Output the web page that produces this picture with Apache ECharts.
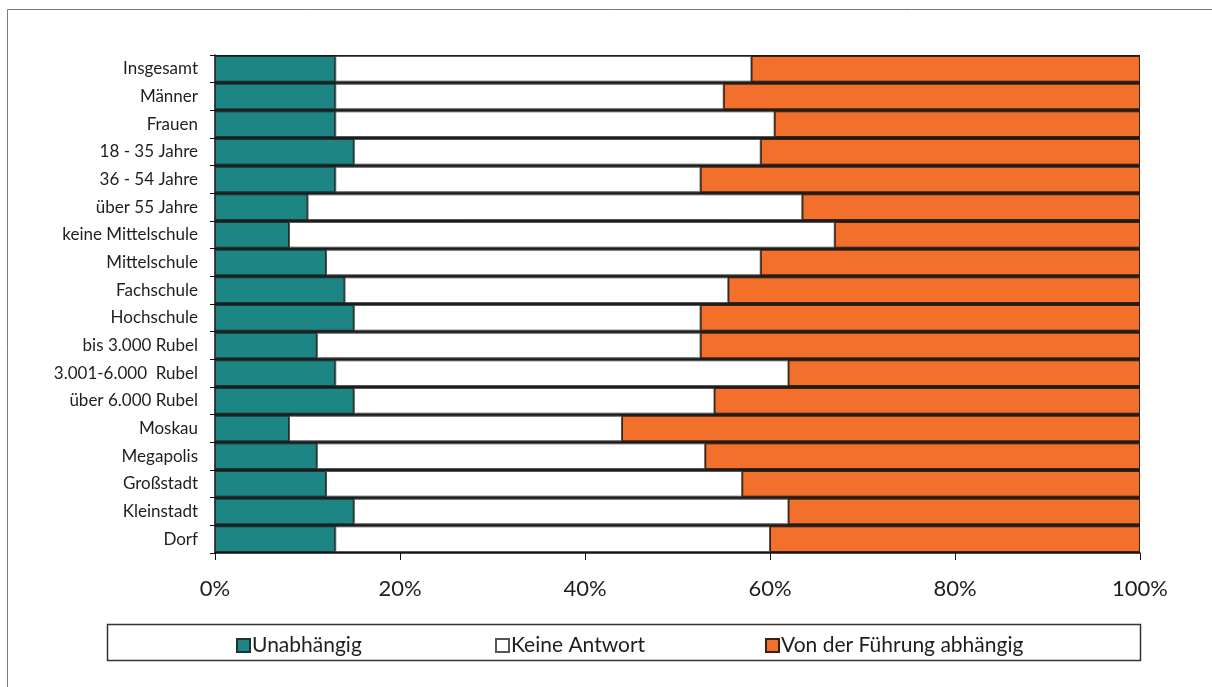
<!DOCTYPE html>
<html>
<head>
<meta charset="utf-8">
<script src="https://cdn.jsdelivr.net/npm/echarts@6/dist/echarts.min.js"></script>
<style>
  html, body { margin: 0; padding: 0; background: #fff; }
  #chart { width: 1212px; height: 687px; }
</style>
</head>
<body>
<div id="chart"></div>
<script>
// Gruppen (von oben nach unten)
const categories = [
  'Insgesamt', 'Männer', 'Frauen', '18 - 35 Jahre', '36 - 54 Jahre', 'über 55 Jahre',
  'keine Mittelschule', 'Mittelschule', 'Fachschule', 'Hochschule',
  'bis 3.000 Rubel', '3.001-6.000  Rubel', 'über 6.000 Rubel',
  'Moskau', 'Megapolis', 'Großstadt', 'Kleinstadt', 'Dorf'
];

// Anteile in Prozent
const unabhaengig = [13, 13, 13, 15, 13, 10, 8, 12, 14, 15, 11, 13, 15, 8, 11, 12, 15, 13];
const keineAntwort = [45, 42, 47.5, 44, 39.5, 53.5, 59, 47, 41.5, 37.5, 41.5, 49, 39, 36, 42, 45, 47, 47];
const abhaengig = [42, 45, 39.5, 41, 47.5, 36.5, 33, 41, 44.5, 47.5, 47.5, 38, 46, 56, 47, 43, 38, 40];

const seriesNames = ['Unabhängig', 'Keine Antwort', 'Von der Führung abhängig'];
const xTicks = [0, 20, 40, 60, 80, 100];

const FONT = 'Lato, "Noto Sans", sans-serif';
const TEXT = '#1e1e1e';

const chart = echarts.init(document.getElementById('chart'), null, { renderer: 'canvas' });

function barSeries(name, data, color, border) {
  return {
    name: name,
    type: 'bar',
    stack: 'total',
    data: data,
    barCategoryGap: '7%',
    itemStyle: { color: color, borderColor: border, borderWidth: 1 },
    emphasis: { disabled: true }
  };
}

// one legend entry per series, each placed on its own
const legendLefts = [231, 490, 760];
const legends = seriesNames.map((name, i) => ({
  data: [name],
  left: legendLefts[i], top: 630,
  icon: 'rect', itemWidth: 13, itemHeight: 13,
  textStyle: { fontFamily: FONT, fontSize: 21, color: TEXT, padding: [0, 0, 0, -3] },
  selectedMode: false
}));

chart.setOption({
  animation: false,
  backgroundColor: '#fff',
  graphic: [
    {
      type: 'rect',
      shape: { x: 7.5, y: 9.5, width: 1400, height: 900 },
      style: { fill: 'none', stroke: '#7a7a7a', lineWidth: 1 },
      silent: true, z: -10
    },
    {
      type: 'rect',
      shape: { x: 107.5, y: 624.5, width: 1033, height: 36 },
      style: { fill: '#fff', stroke: '#333', lineWidth: 1.5 },
      silent: true, z: -5
    }
  ],
  grid: {
    left: 215, right: 72, top: 55, bottom: 134,
    show: true, backgroundColor: '#1c1c1c', borderWidth: 0
  },
  legend: legends,
  xAxis: {
    type: 'value',
    min: 0, max: 100, interval: 20,
    axisLine: { show: true, lineStyle: { color: '#111', width: 1.5 } },
    axisTick: { show: true, length: 7, lineStyle: { color: '#111' } },
    splitLine: { show: false },
    axisLabel: {
      margin: 25,
      fontFamily: FONT, fontSize: 22, color: TEXT,
      formatter: v => xTicks.includes(v) ? v + '%' : ''
    }
  },
  yAxis: {
    type: 'category',
    data: categories,
    inverse: true,
    axisLine: { show: true, lineStyle: { color: '#111', width: 1.5 } },
    axisTick: { show: true, length: 5, lineStyle: { color: '#111' } },
    axisLabel: { margin: 17, fontFamily: FONT, fontSize: 17, color: TEXT }
  },
  series: [
    barSeries(seriesNames[0], unabhaengig, '#1d8583', '#1a3535'),
    barSeries(seriesNames[1], keineAntwort, '#ffffff', '#555'),
    barSeries(seriesNames[2], abhaengig, '#f26f2c', '#3a2010')
  ]
});
</script>
</body>
</html>
